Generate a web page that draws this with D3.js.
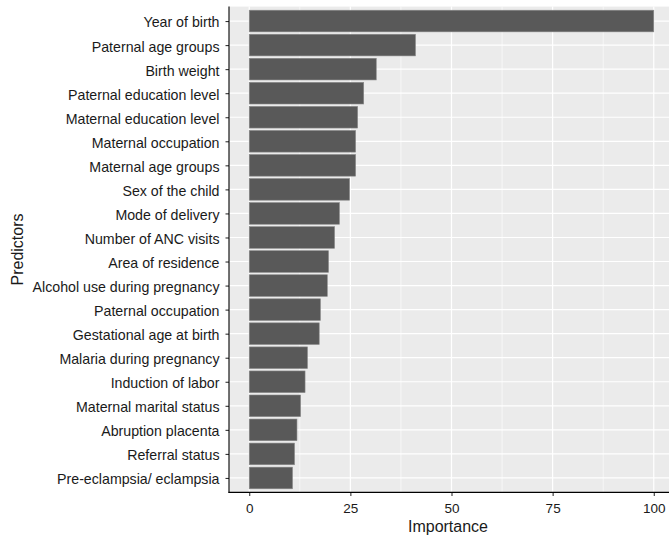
<!DOCTYPE html>
<html><head><meta charset="utf-8">
<script src="https://cdn.jsdelivr.net/npm/d3@7"></script>
<style>body{margin:0;background:#fff}svg{display:block}text{font-family:"Liberation Sans",Arial,sans-serif}</style>
</head><body><svg id="c" width="669" height="536"></svg>
<script>
const predictors = ["Year of birth","Paternal age groups","Birth weight","Paternal education level","Maternal education level","Maternal occupation","Maternal age groups","Sex of the child","Mode of delivery","Number of ANC visits","Area of residence","Alcohol use during pregnancy","Paternal occupation","Gestational age at birth","Malaria during pregnancy","Induction of labor","Maternal marital status","Abruption placenta","Referral status","Pre-eclampsia/ eclampsia"];
const importance = [100,41.1,31.4,28.3,26.8,26.3,26.3,24.8,22.3,21.1,19.6,19.3,17.6,17.3,14.4,13.8,12.7,11.8,11.2,10.7];
const xTicks = [0,25,50,75,100];
const xMinor = [12.5,37.5,62.5,87.5];

const svg = d3.select("#c");
const L = 229, R = 674, T = 6.6, B = 492.4;
const x = d3.scaleLinear().domain([-5,105]).range([L,R]);
const n = predictors.length;
const step = (B-T)/(n-1+1.2);
const y = d3.scalePoint().domain(predictors).range([T+0.6*step, B-0.6*step]);

svg.append("rect").attr("x",L).attr("y",T).attr("width",R-L).attr("height",B-T).attr("fill","#EBEBEB");
const g = svg.append("g");
g.selectAll(".mn").data(xMinor).join("line").attr("x1",d=>x(d)).attr("x2",d=>x(d)).attr("y1",T).attr("y2",B).attr("stroke","#fff").attr("stroke-width",0.6);
g.selectAll(".mj").data(xTicks).join("line").attr("x1",d=>x(d)).attr("x2",d=>x(d)).attr("y1",T).attr("y2",B).attr("stroke","#fff").attr("stroke-width",1.2);
g.selectAll(".hy").data(predictors).join("line").attr("x1",L).attr("x2",R).attr("y1",d=>y(d)).attr("y2",d=>y(d)).attr("stroke","#fff").attr("stroke-width",1.2);

const bw = step*0.9;
svg.selectAll(".bar").data(predictors).join("rect")
  .attr("x",x(0)).attr("y",d=>y(d)-bw/2)
  .attr("width",(d,i)=>x(importance[i])-x(0)).attr("height",bw)
  .attr("fill","#595959").attr("stroke","#8a8a8a").attr("stroke-width",0.6);

// axes
const xa = svg.append("g").attr("transform",`translate(0,${B})`).call(d3.axisBottom(x).tickValues(xTicks).tickSize(3.5).tickPadding(7.5).tickFormat(d3.format("d")));
const ya = svg.append("g").attr("transform",`translate(${L},0)`).call(d3.axisLeft(y).tickSize(3.5).tickPadding(6));
[xa,ya].forEach(a=>{
  a.select(".domain").remove();
  a.selectAll(".tick line").attr("stroke","#333").attr("stroke-width",1.1);
  a.selectAll("text").attr("fill","#1a1a1a").style("font-family","'Liberation Sans',Arial,sans-serif");
});
xa.selectAll("text").style("font-size","13.5px");
ya.selectAll("text").style("font-size","14.2px").attr("dy","0.42em");
svg.append("line").attr("x1",L).attr("x2",L).attr("y1",T).attr("y2",B+0.5).attr("stroke","#000").attr("stroke-width",1.1);
svg.append("line").attr("x1",L-0.5).attr("x2",R).attr("y1",B).attr("y2",B).attr("stroke","#000").attr("stroke-width",1.1);

svg.append("text").attr("x",448).attr("y",532).attr("text-anchor","middle").attr("fill","#1a1a1a").style("font-size","16px").text("Importance");
svg.append("text").attr("transform",`translate(22.5,${(T+B)/2}) rotate(-90)`).attr("text-anchor","middle").attr("fill","#1a1a1a").style("font-size","16px").text("Predictors");
</script></body></html>
